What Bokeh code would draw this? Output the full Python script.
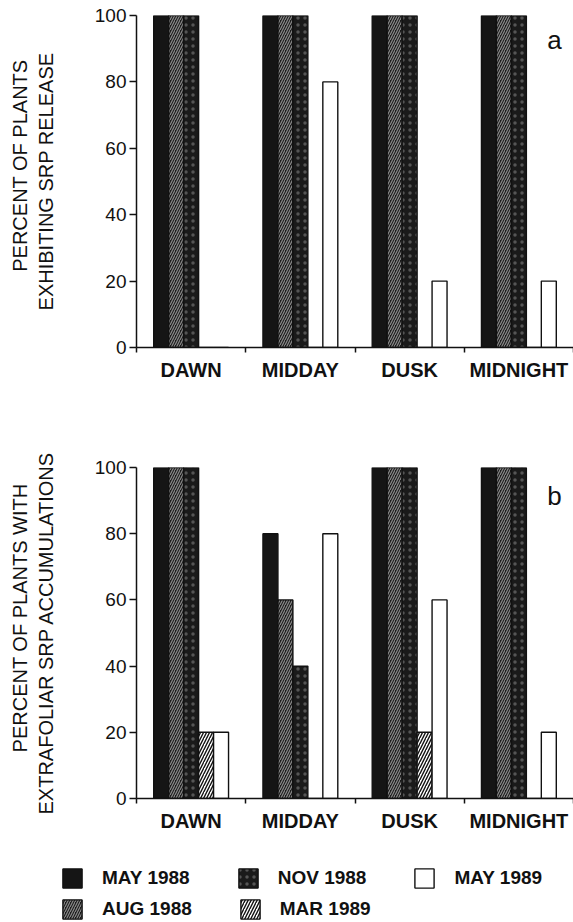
import numpy as np
from bokeh.plotting import figure
from bokeh.models import (ColumnDataSource, Range1d, FixedTicker, Title, Label,
                          Legend, LegendItem)
from bokeh.embed import file_html
from bokeh.resources import INLINE

# ---------------- data ----------------
categories = ["DAWN", "MIDDAY", "DUSK", "MIDNIGHT"]
series = ["MAY 1988", "AUG 1988", "NOV 1988", "MAR 1989", "MAY 1989"]

# panel a: percent of plants exhibiting SRP release
release_may88 = [100, 100, 100, 100]
release_aug88 = [100, 100, 100, 100]
release_nov88 = [100, 100, 100, 100]
release_mar89 = [0, 0, 0, 0]
release_may89 = [0, 80, 20, 20]

# panel b: percent of plants with extrafoliar SRP accumulations
accum_may88 = [100, 80, 100, 100]
accum_aug88 = [100, 60, 100, 100]
accum_nov88 = [100, 40, 100, 100]
accum_mar89 = [20, 0, 20, 0]
accum_may89 = [20, 80, 60, 20]

y_ticks = [0, 20, 40, 60, 80, 100]

# ---------------- styles ----------------
FONT = "Liberation Sans"
INK = "#111111"
STYLES = [
    dict(fill_color="#151515", line_color=INK),
    dict(fill_color="#1c1c1c", line_color=INK, hatch_pattern="right_diagonal_line",
         hatch_color="#8a8a8a", hatch_scale=5, hatch_weight=1.2),
    dict(fill_color="#1a1a1a", line_color=INK, hatch_pattern="dot",
         hatch_color="#555555", hatch_scale=7, hatch_weight=1.0),
    dict(fill_color="white", line_color=INK, hatch_pattern="right_diagonal_line",
         hatch_color=INK, hatch_scale=6, hatch_weight=1.4),
    dict(fill_color="white", line_color=INK),
]
BAR_W = 0.137


def make_panel(values, title1, title2, letter, letter_y, height, top, bottom, off1):
    p = figure(width=573, height=height, x_range=Range1d(0, 4), y_range=Range1d(0, 100),
               output_backend="svg", toolbar_location=None,
               min_border_left=136, min_border_right=0,
               min_border_top=top, min_border_bottom=bottom)
    p.outline_line_color = None
    p.xgrid.visible = False
    p.ygrid.visible = False

    idx = np.arange(len(categories))
    sources = []
    for k, (vals, st) in enumerate(zip(values, STYLES)):
        src = ColumnDataSource(dict(x=idx + 0.5 + (k - 2) * BAR_W, top=vals, cat=categories))
        p.vbar(x="x", top="top", bottom=0, width=BAR_W, source=src, line_width=1.4, **st)
        sources.append(src)

    xa = p.xaxis[0]
    xa.ticker = FixedTicker(ticks=[i + 0.5 for i in idx], minor_ticks=list(range(len(categories) + 1)))
    xa.major_label_overrides = {float(i + 0.5): c for i, c in zip(idx, categories)}
    xa.major_tick_out = 0
    xa.major_tick_in = 0
    xa.major_tick_line_color = None
    xa.minor_tick_out = 5
    xa.minor_tick_in = 0
    xa.minor_tick_line_color = INK
    xa.minor_tick_line_width = 1.5
    xa.axis_line_color = INK
    xa.axis_line_width = 1.5
    xa.major_label_text_font = FONT
    xa.major_label_text_font_style = "bold"
    xa.major_label_text_font_size = "20px"
    xa.major_label_text_color = INK
    xa.major_label_standoff = 6

    ya = p.yaxis[0]
    ya.ticker = FixedTicker(ticks=y_ticks)
    ya.minor_tick_line_color = None
    ya.major_tick_out = 7
    ya.major_tick_in = 0
    ya.major_tick_line_color = INK
    ya.major_tick_line_width = 1.5
    ya.axis_line_color = INK
    ya.axis_line_width = 1.5
    ya.major_label_text_font = FONT
    ya.major_label_text_font_size = "19px"
    ya.major_label_text_color = INK
    ya.major_label_standoff = 3
    ya.axis_label = title2
    ya.axis_label_text_font = FONT
    ya.axis_label_text_font_size = "20px"
    ya.axis_label_text_font_style = "normal"
    ya.axis_label_text_color = INK
    ya.axis_label_standoff = 35

    p.add_layout(Title(text=title1, text_font=FONT, text_font_size="20px",
                       text_font_style="normal", text_color=INK, align="right",
                       standoff=2, offset=off1), "left")

    p.add_layout(Label(x=3.76, y=letter_y, text=letter,
                       text_font=FONT, text_font_size="26px",
                       text_baseline="middle", text_color=INK))
    return p, sources


pa, sa = make_panel([release_may88, release_aug88, release_nov88, release_mar89, release_may89],
                    "PERCENT OF PLANTS", "EXHIBITING SRP RELEASE", "a", 92.5,
                    height=420, top=15, bottom=73, off1=44)
pb, sb = make_panel([accum_may88, accum_aug88, accum_nov88, accum_mar89, accum_may89],
                    "PERCENT OF PLANTS WITH", "EXTRAFOLIAR SRP ACCUMULATIONS", "b", 91.5,
                    height=418, top=47, bottom=40, off1=16)

# ---------------- legend strip ----------------
# legend renderers share panel b's sources but are hidden (visible=False);
# the legend still draws their swatches
pl = figure(width=573, height=84, x_range=Range1d(0, 4), y_range=Range1d(0, 100),
            output_backend="svg", toolbar_location=None, min_border=0,
            x_axis_location=None, y_axis_location=None)
pl.outline_line_color = None
pl.grid.visible = False
lrends = []
for s, st in zip(sb, STYLES):
    r = pl.vbar(x="x", top="top", bottom=0, width=BAR_W, source=s, line_width=1.4, **st)
    r.visible = False
    lrends.append(r)


def make_legend(ids, loc):
    return Legend(items=[LegendItem(label=series[i], renderers=[lrends[i]]) for i in ids],
                  location=loc, orientation="horizontal", click_policy="none",
                  glyph_width=24, glyph_height=24, label_standoff=18, spacing=46,
                  label_height=24, padding=0, margin=0,
                  inactive_fill_alpha=0,
                  border_line_color=None, background_fill_alpha=0,
                  label_text_font=FONT, label_text_font_style="bold",
                  label_text_font_size="19px", label_text_color=INK)


pl.add_layout(make_legend([0, 2, 4], (60, 32)))
pl.add_layout(make_legend([1, 3], (60, 1)))

open("out.html", "w").write(file_html([pa, pb, pl], INLINE))
